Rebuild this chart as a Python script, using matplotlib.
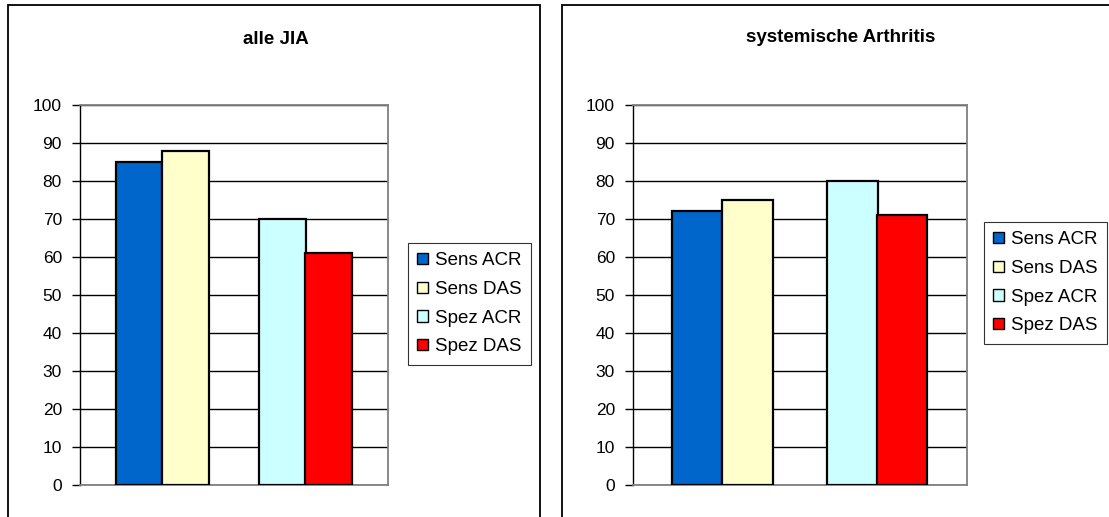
import matplotlib
matplotlib.use("Agg")
import matplotlib.pyplot as plt
from matplotlib.patches import Rectangle, Patch

plt.rcParams['font.family'] = ['Liberation Sans', 'DejaVu Sans']

series = ['Sens ACR', 'Sens DAS', 'Spez ACR', 'Spez DAS']
colors = ['#0066CC', '#FFFFCC', '#CCFFFF', '#FF0000']
alle_jia = [85, 88, 70, 61]
systemische = [72, 75, 80, 71]
titles = ['alle JIA', 'systemische Arthritis']
yticks = list(range(0, 101, 10))

W, H = 1109, 517
fig = plt.figure(figsize=(W / 100, H / 100), dpi=100)

def fx(px):
    return px / W

def fy(py):
    return 1 - py / H

# panel frames
fig.patches.append(Rectangle((fx(8), fy(530)), fx(540 - 8), (530 - 5) / H,
                             transform=fig.transFigure, fill=False,
                             edgecolor='black', linewidth=1.3))
fig.patches.append(Rectangle((fx(562), fy(530)), fx(1130 - 562), (530 - 5) / H,
                             transform=fig.transFigure, fill=False,
                             edgecolor='black', linewidth=1.3))

panels = [
    dict(data=alle_jia, x0=80, x1=388, title_x=276, title_y=39,
         leg=(408, 243), gridc='black'),
    dict(data=systemische, x0=633, x1=967, title_x=841, title_y=37,
         leg=(984, 222), gridc='black'),
]

y_top, y_bot = 105, 485
centers = [0.192, 0.343, 0.657, 0.806]
width = 0.151

for p, title in zip(panels, titles):
    ax = fig.add_axes([fx(p['x0']), fy(y_bot), fx(p['x1'] - p['x0']), (y_bot - y_top) / H])
    ax.set_xlim(0, 1)
    ax.set_ylim(0, 100)
    ax.set_yticks(yticks)
    ax.set_xticks([])
    ax.yaxis.grid(True, color=p['gridc'], linewidth=1.0)
    ax.set_axisbelow(True)
    ax.bar(centers, p['data'], width=width, color=colors, edgecolor='black',
           linewidth=1.6, zorder=3)
    for s in ['top', 'right', 'bottom']:
        ax.spines[s].set_color('#808080')
        ax.spines[s].set_linewidth(1.3)
    ax.spines['left'].set_color('black')
    ax.spines['left'].set_linewidth(1.0)
    ax.tick_params(axis='y', length=6, width=1, labelsize=12.5, pad=7, colors='black')
    fig.text(fx(p['title_x']), fy(p['title_y']), title, ha='center', va='center',
             fontsize=13.5, fontweight='bold')
    lx0, ly0 = p['leg']
    handles = [Patch(facecolor=c, edgecolor='black', linewidth=1.0) for c in colors]
    leg = fig.legend(handles, series, loc='upper left',
                     bbox_to_anchor=(fx(lx0), fy(ly0)), bbox_transform=fig.transFigure,
                     fontsize=13.5, frameon=True, fancybox=False, shadow=False,
                     handlelength=0.55, handleheight=0.55, handletextpad=0.4,
                     labelspacing=0.62, borderpad=0.5, borderaxespad=0)
    leg.get_frame().set_edgecolor('black')
    leg.get_frame().set_linewidth(0.8)

fig.savefig('out.png', dpi=100)
